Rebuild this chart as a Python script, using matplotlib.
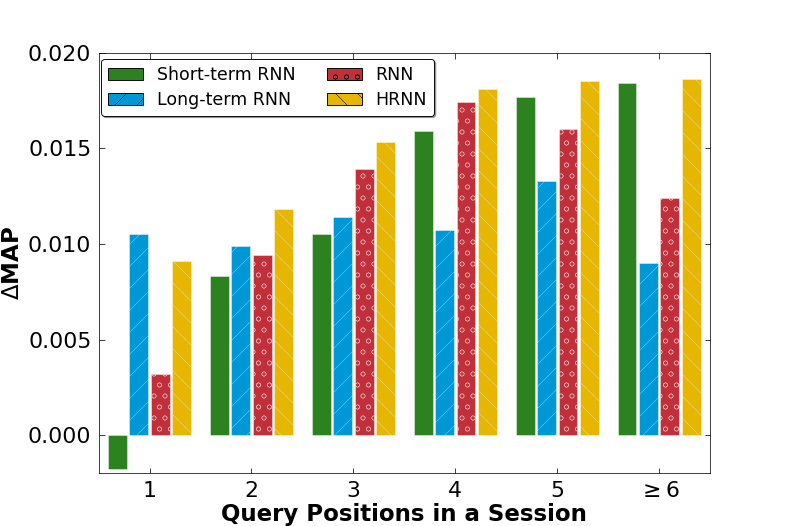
import numpy as np
import matplotlib
matplotlib.use("Agg")
import matplotlib.pyplot as plt
from matplotlib.patches import Patch

# Данные
positions = ['1', '2', '3', '4', '5', r'$\geq$6']
short_rnn = [-0.00175, 0.0083, 0.0105, 0.0159, 0.0177, 0.0184]
long_rnn = [0.0105, 0.0099, 0.0114, 0.0107, 0.0133, 0.0090]
rnn = [0.0032, 0.0094, 0.0139, 0.0174, 0.0160, 0.0124]
hrnn = [0.0091, 0.0118, 0.0153, 0.0181, 0.0185, 0.0186]

names = ['Short-term RNN', 'Long-term RNN', 'RNN', 'HRNN']
colors = ['#2c821f', '#0097d7', '#c1303a', '#e6b600']
hatches = ['', '/', 'o', '\\']

plt.rcParams['hatch.linewidth'] = 0.5

DPI = 66
fig = plt.figure(figsize=(789 / DPI, 526 / DPI), dpi=DPI)
ax = fig.add_axes([0.125, 0.1, 0.775, 0.8])

x = np.arange(1, len(positions) + 1)
step = 0.21
w = 0.185
series = [short_rnn, long_rnn, rnn, hrnn]
for i, vals in enumerate(series):
    ax.bar(x + (i - 1.5) * step, vals, w, color=colors[i],
           edgecolor=(1, 1, 1, 0.55), hatch=hatches[i], linewidth=0.8)

ax.set_xlim(0.5, 6.5)
ax.set_ylim(-0.002, 0.020)
ax.set_xticks(x)
ax.set_xticklabels(positions)
ax.set_yticks(np.arange(0, 0.0201, 0.005))
ax.set_yticklabels([f'{v:.3f}' for v in np.arange(0, 0.0201, 0.005)])
ax.tick_params(direction='in', top=True, right=True, labelsize=24, length=6, pad=8)
ax.set_xlabel('Query Positions in a Session', fontsize=25, fontweight='bold', labelpad=2)
ax.set_ylabel(r'$\Delta$MAP', fontsize=25, fontweight='bold')

handles = [Patch(facecolor=colors[i], edgecolor='black', hatch=hatches[i], linewidth=1)
           for i in range(4)]
ax.legend(handles, names, loc='upper left', bbox_to_anchor=(0.004, 0.985), ncol=2,
          fontsize=19, fancybox=True, shadow=True, framealpha=1, edgecolor='black',
          handlelength=2.0, handletextpad=0.8, borderaxespad=0.0, columnspacing=1.8,
          labelspacing=0.4)

fig.savefig('out.png', dpi=DPI)
